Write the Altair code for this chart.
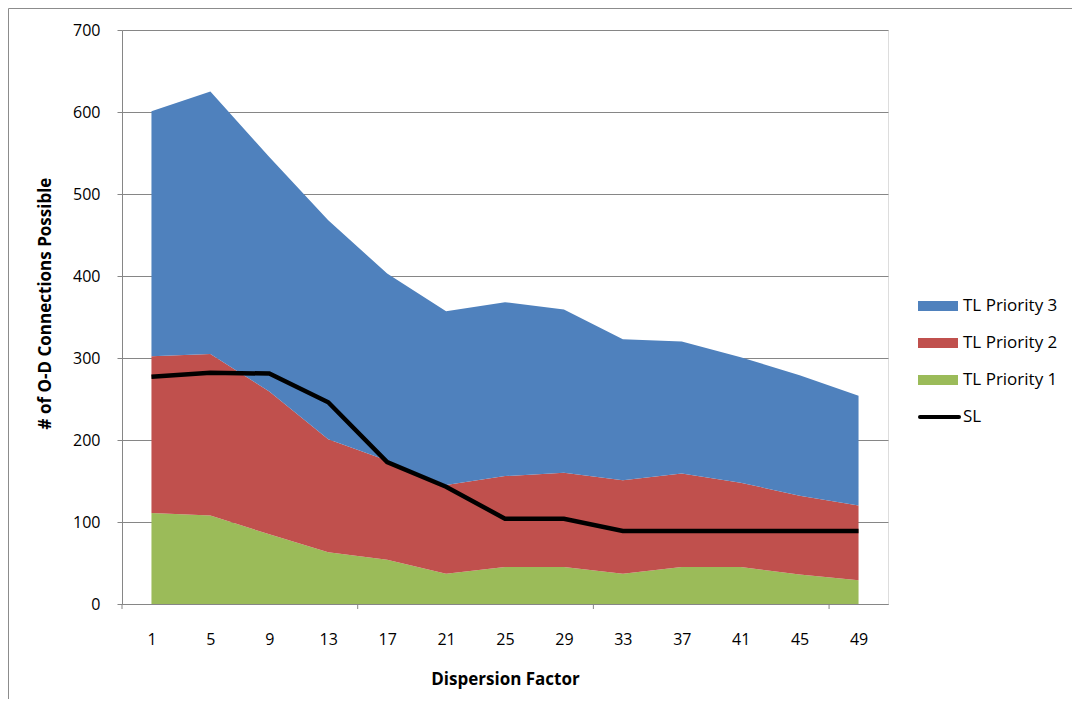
import altair as alt
import pandas as pd

# ---- data ----
dispersion = [1, 5, 9, 13, 17, 21, 25, 29, 33, 37, 41, 45, 49]
tl_priority_1 = [111, 108, 85, 63, 54, 37, 45, 45, 37, 45, 45, 36, 29]
tl_priority_2 = [191, 197, 174, 138, 121, 108, 111, 115, 114, 114, 103, 96, 91]
tl_priority_3 = [299, 320, 286, 267, 228, 212, 212, 199, 172, 161, 153, 147, 134]
sl = [277, 282, 281, 246, 173, 143, 104, 104, 89, 89, 89, 89, 89]

series_names = ["TL Priority 3", "TL Priority 2", "TL Priority 1", "SL"]
series_colors = ["#4F81BD", "#C0504D", "#9BBB59", "#000000"]
y_ticks = [0, 100, 200, 300, 400, 500, 600, 700]
x_tick_marks = [-1, 15, 31, 47]

FONT = "Open Sans"
GRAY = "#868686"
W, H = 766, 574

rows = []
for name, vals, order in [("TL Priority 1", tl_priority_1, 1),
                          ("TL Priority 2", tl_priority_2, 2),
                          ("TL Priority 3", tl_priority_3, 3)]:
    for d, v in zip(dispersion, vals):
        rows.append({"Dispersion": d, "value": v, "series": name, "ord": order})
area_df = pd.DataFrame(rows)
sl_df = pd.DataFrame({"Dispersion": dispersion, "value": sl})
ticks_df = pd.DataFrame({"t": x_tick_marks})

x_scale = alt.Scale(domain=[-1, 51], nice=False, zero=False)
y_scale = alt.Scale(domain=[0, 700], nice=False)

areas = alt.Chart(area_df).mark_area(interpolate="linear", opacity=1).encode(
    x=alt.X("Dispersion:Q", scale=x_scale,
            axis=alt.Axis(values=dispersion, tickSize=0, grid=False, labelFlush=False,
                          labelFont=FONT, labelFontSize=16, labelColor="#000",
                          labelPadding=27, domainColor=GRAY,
                          title="Dispersion Factor", titleFont=FONT, titleFontSize=17,
                          titleFontWeight="bold", titleColor="#000",
                          titleX=W / 2, titleY=80, titleBaseline="alphabetic")),
    y=alt.Y("value:Q", stack="zero", scale=y_scale,
            axis=alt.Axis(values=y_ticks, grid=True, gridColor=GRAY, gridWidth=1,
                          tickSize=5, tickColor=GRAY, domainColor=GRAY,
                          labelFont=FONT, labelFontSize=16, labelColor="#000",
                          labelPadding=17,
                          title="# of O-D Connections Possible", titleFont=FONT,
                          titleFontSize=17, titleFontWeight="bold", titleColor="#000",
                          titleAngle=-90, titleX=-72, titleY=273,
                          titleAlign="center", titleBaseline="alphabetic")),
    color=alt.Color("series:N", scale=alt.Scale(domain=series_names, range=series_colors),
                    legend=None),
    order=alt.Order("ord:Q", sort="ascending"),
)

line = alt.Chart(sl_df).mark_line(color="#000000", strokeWidth=4.5).encode(
    x=alt.X("Dispersion:Q", scale=x_scale),
    y=alt.Y("value:Q", scale=y_scale),
)

xticks = alt.Chart(ticks_df).mark_rule(color=GRAY, strokeWidth=1).encode(
    x=alt.X("t:Q", scale=x_scale),
    y=alt.value(H),
    y2=alt.value(H + 5),
)

border = alt.Chart(ticks_df.head(1)).mark_rect(fill=None, stroke="#8c8c8c",
                                                strokeWidth=1).encode(
    x=alt.value(-113.5), x2=alt.value(1100),
    y=alt.value(-21.5), y2=alt.value(900),
)

legend_layers = []
legend_y = [276, 313, 350, 387]
for name, color, ly in zip(series_names, series_colors, legend_y):
    if name == "SL":
        sym = alt.Chart(ticks_df.head(1)).mark_rule(color=color, strokeWidth=4,
                                                    strokeCap="round").encode(
            x=alt.value(798), x2=alt.value(837), y=alt.value(ly))
    else:
        sym = alt.Chart(ticks_df.head(1)).mark_rect(color=color).encode(
            x=alt.value(796), x2=alt.value(836), y=alt.value(ly - 5), y2=alt.value(ly + 5))
    txt = alt.Chart(ticks_df.head(1)).mark_text(
        text=name, font=FONT, fontSize=17, color="#000", align="left",
        baseline="middle").encode(x=alt.value(841), y=alt.value(ly))
    legend_layers += [sym, txt]

chart = alt.layer(border, areas, line, xticks, *legend_layers).properties(
    width=W, height=H,
    autosize=alt.AutoSizeParams(type="none"),
    padding={"left": 114, "top": 22, "right": 184, "bottom": 95},
).configure_view(stroke=None).configure(background="white")

chart.save("out.html", embed_options={"renderer": "svg", "actions": False})
